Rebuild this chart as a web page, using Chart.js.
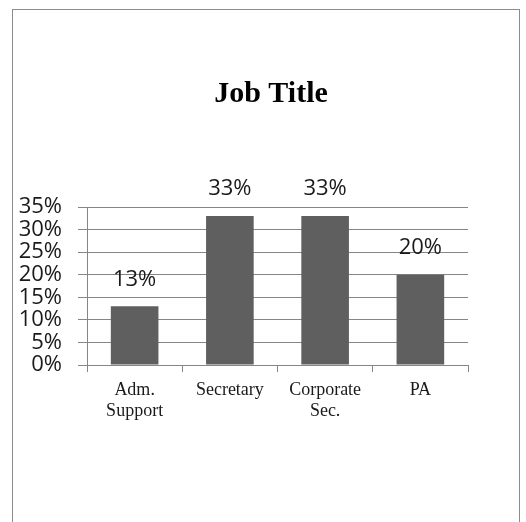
<!DOCTYPE html>
<html>
<head>
<meta charset="utf-8">
<script src="https://cdn.jsdelivr.net/npm/chart.js"></script>
<style>
  body { margin: 0; background: #fff; }
  #frame { position: absolute; left: 12px; top: 9px; width: 506px; height: 530px;
           border: 1px solid #8c8c8c; border-bottom: none; }
  #myChart { position: absolute; left: 0; top: 0; }
</style>
</head>
<body>
<div id="frame"></div>
<canvas id="myChart" width="526" height="522"></canvas>
<script>
const jobTitles = [["Adm.", "Support"], "Secretary", ["Corporate", "Sec."], "PA"]
const shares = [13, 33, 33, 20]
const yMax = 35
const yStep = 5

const gridGrey = "#868686"

// percent text above each bar
const barLabels = {
  id: "barLabels",
  afterDatasetsDraw(chart) {
    const ctx = chart.ctx
    const meta = chart.getDatasetMeta(0)
    ctx.save()
    ctx.font = "22px 'Open Sans'"
    ctx.fillStyle = "#1a1a1a"
    ctx.textAlign = "center"
    ctx.textBaseline = "middle"
    meta.data.forEach((bar, i) => {
      ctx.fillText(shares[i] + "%", bar.x, bar.y - 27)
    })
    ctx.restore()
  }
}

new Chart("myChart", {
  type: "bar",
  data: {
    labels: jobTitles,
    datasets: [{
      data: shares,
      backgroundColor: "#5f5f5f",
      barPercentage: 0.5,
      categoryPercentage: 1
    }]
  },
  plugins: [barLabels],
  options: {
    responsive: false,
    animation: false,
    layout: { padding: { left: 16, right: 0, top: 0, bottom: 0 } },
    plugins: {
      legend: { display: false },
      tooltip: { enabled: false },
      title: {
        display: true,
        text: "Job Title",
        color: "#000",
        font: { family: "'Liberation Serif'", size: 30, weight: "bold", lineHeight: 1.2 },
        padding: { top: 76, bottom: 95 }
      }
    },
    scales: {
      x: {
        grid: { display: true, drawOnChartArea: false, color: gridGrey, tickLength: 7, offset: true },
        border: { display: true, color: gridGrey },
        ticks: {
          color: "#1a1a1a",
          padding: 8,
          maxRotation: 0,
          font: { family: "'Liberation Serif'", size: 18, lineHeight: 1.17 }
        },
        afterFit(scale) { scale.height = 157 }
      },
      y: {
        min: 0,
        max: yMax,
        grid: { color: gridGrey, tickLength: 9 },
        border: { display: true, color: gridGrey },
        ticks: {
          stepSize: yStep,
          autoSkip: false,
          color: "#1a1a1a",
          padding: 16,
          font: { family: "'Open Sans'", size: 22 },
          callback: v => v + "%"
        },
        afterFit(scale) { scale.width = 71 }
      },
      // empty right-hand axis, only reserves the blank strip right of the plot
      yRight: {
        position: "right",
        min: 0,
        max: yMax,
        grid: { display: false },
        border: { display: false },
        ticks: { display: false },
        afterFit(scale) { scale.width = 58 }
      }
    }
  }
});
</script>
</body>
</html>
